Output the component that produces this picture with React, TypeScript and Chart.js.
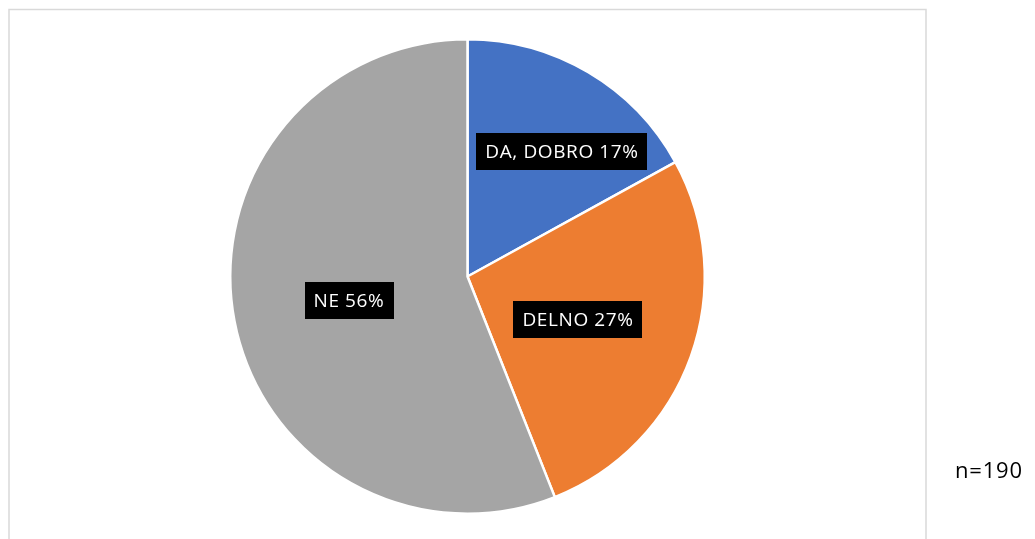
import React, { useEffect, useRef } from "react";
import { Chart, registerables } from "chart.js";

Chart.register(...registerables);

const categories = ["DA, DOBRO", "DELNO", "NE"];
const percentages = [17, 27, 56];
const sliceColors = ["#4472C4", "#ED7D31", "#A5A5A5"];
const sampleNote = "n=190";
// radial fraction and angular shift (deg) for each label placement
const labelRadial = [0.66, 0.5, 0.51];
const labelAngleShift = [6.5, 1.5, -0.7];

const FONT = "'Open Sans', 'Liberation Sans', sans-serif";

const decorPlugin = {
  id: "decor",
  beforeDraw(chart: any) {
    const ctx = chart.ctx;
    ctx.save();
    ctx.fillStyle = "#ffffff";
    ctx.fillRect(0, 0, chart.width, chart.height);
    ctx.strokeStyle = "#d9d9d9";
    ctx.lineWidth = 1.5;
    ctx.strokeRect(9, 9.5, 917, 560);
    ctx.restore();
  },
  afterDraw(chart: any) {
    const ctx = chart.ctx;
    const meta = chart.getDatasetMeta(0);
    ctx.save();
    ctx.font = `19px ${FONT}`;
    (ctx as any).letterSpacing = "0.6px";
    ctx.textAlign = "center";
    ctx.textBaseline = "middle";
    meta.data.forEach((arc: any, i: number) => {
      const p = arc.getProps(["x", "y", "startAngle", "endAngle", "outerRadius"], true);
      const mid = (p.startAngle + p.endAngle) / 2 + (labelAngleShift[i] * Math.PI) / 180;
      const r = p.outerRadius * labelRadial[i];
      const cx = p.x + Math.cos(mid) * r;
      const cy = p.y + Math.sin(mid) * r;
      const text = `${categories[i]} ${percentages[i]}%`;
      const w = ctx.measureText(text).width + 18;
      const h = 37;
      ctx.fillStyle = "#000000";
      ctx.fillRect(Math.round(cx - w / 2), Math.round(cy - h / 2), Math.round(w), h);
      ctx.fillStyle = "#ffffff";
      ctx.fillText(text, cx, cy + 1);
    });
    ctx.fillStyle = "#000000";
    ctx.font = `22px ${FONT}`;
    (ctx as any).letterSpacing = "0.8px";
    ctx.textAlign = "left";
    ctx.fillText(sampleNote, 955, 472);
    ctx.restore();
  },
};

export default function App() {
  const ref = useRef<HTMLCanvasElement | null>(null);
  useEffect(() => {
    if (!ref.current) return;
    const chart = new Chart(ref.current, {
      type: "pie",
      data: {
        labels: categories,
        datasets: [
          {
            data: percentages,
            backgroundColor: sliceColors,
            borderColor: "#ffffff",
            borderWidth: 2.5,
          },
        ],
      },
      options: {
        animation: false,
        responsive: false,
        maintainAspectRatio: false,
        layout: { padding: { top: 38, bottom: 24, left: 229, right: 329 } },
        plugins: {
          legend: { display: false },
          tooltip: { enabled: false },
          title: { display: false },
        },
      },
      plugins: [decorPlugin],
    });
    return () => chart.destroy();
  }, []);
  return (
    <div style={{ position: "fixed", left: 0, top: 0, width: 1035, height: 539 }}>
      <canvas ref={ref} width={1035} height={539} style={{ display: "block", width: 1035, height: 539 }} />
    </div>
  );
}
